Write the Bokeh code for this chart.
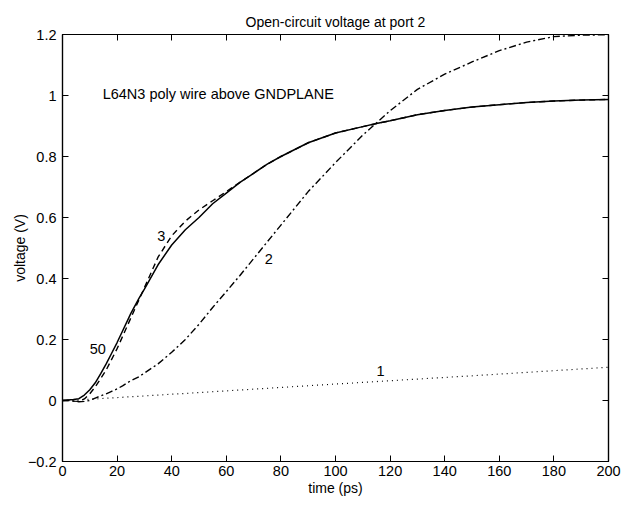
from bokeh.plotting import figure
from bokeh.models import LinearAxis, FixedTicker, Range1d, Label
from bokeh.embed import file_html
from bokeh.resources import INLINE

# time axis (ps) shared by the three transient curves
t = [0, 2, 4, 6, 8, 10, 12, 14, 16, 18, 20, 22, 25, 28, 30, 35, 40, 45, 50, 55,
     60, 65, 70, 75, 80, 90, 100, 110, 115, 120, 130, 140, 150, 160, 170, 180, 190, 200]

# order 50 (solid)
v50 = [0.0, 0.002, 0.003, 0.006, 0.018, 0.035, 0.058, 0.088, 0.12, 0.155, 0.19, 0.228,
       0.285, 0.335, 0.365, 0.445, 0.51, 0.56, 0.60, 0.645, 0.68, 0.715, 0.745, 0.775,
       0.80, 0.845, 0.877, 0.898, 0.908, 0.917, 0.937, 0.951, 0.962, 0.970, 0.977,
       0.982, 0.985, 0.987]

# order 3 (dashed)
v3 = [0.0, 0.0, -0.002, -0.003, 0.005, 0.022, 0.045, 0.072, 0.10, 0.135, 0.17, 0.21,
      0.27, 0.33, 0.37, 0.47, 0.54, 0.588, 0.625, 0.655, 0.685, 0.715, 0.745, 0.775,
      0.80, 0.845, 0.877, 0.898, 0.908, 0.917, 0.937, 0.951, 0.962, 0.970, 0.977,
      0.982, 0.985, 0.987]

# order 2 (dash-dot)
v2 = [0.0, 0.0, -0.002, -0.004, -0.003, 0.0, 0.008, 0.015, 0.022, 0.03, 0.038, 0.048,
      0.065, 0.078, 0.09, 0.12, 0.158, 0.20, 0.25, 0.305, 0.357, 0.41, 0.465, 0.52,
      0.575, 0.685, 0.78, 0.87, 0.91, 0.95, 1.02, 1.07, 1.11, 1.147, 1.175, 1.193,
      1.198, 1.199]

# order 1 (dotted)
t1 = [0, 5, 10, 50, 100, 150, 200]
v1 = [0.0, 0.001, 0.004, 0.026, 0.054, 0.081, 0.109]

x_ticks = [0, 20, 40, 60, 80, 100, 120, 140, 160, 180, 200]
y_ticks = [-0.2, 0.0, 0.2, 0.4, 0.6, 0.8, 1.0, 1.2]
y_tick_labels = ["\u22120.2", "0", "0.2", "0.4", "0.6", "0.8", "1", "1.2"]

FONT = "Liberation Sans"
FS = "14.5px"

p = figure(width=632, height=506, output_backend="svg", toolbar_location=None,
           x_range=Range1d(0, 200), y_range=Range1d(-0.2, 1.2),
           min_border_left=62, min_border_right=24, min_border_top=34, min_border_bottom=45,
           title="Open-circuit voltage at port 2")
p.title.align = "center"
p.title.text_font = FONT
p.title.text_font_size = "14px"
p.title.text_font_style = "normal"
p.title.text_color = "black"
p.title.offset = 0
p.grid.visible = False
p.outline_line_color = "black"
p.outline_line_width = 1.2
p.background_fill_color = "white"
p.border_fill_color = "white"

def style_axis(ax, ticks, show_labels=True):
    ax.ticker = FixedTicker(ticks=ticks)
    ax.major_tick_in = 6
    ax.major_tick_out = 0
    ax.minor_tick_line_color = None
    ax.axis_line_color = "black"
    ax.axis_line_width = 1.2
    ax.major_tick_line_color = "black"
    ax.major_label_text_font = FONT
    ax.major_label_text_font_size = FS
    ax.major_label_text_color = "black"
    ax.axis_label_text_font = FONT
    ax.axis_label_text_font_size = "14px"
    ax.axis_label_text_font_style = "normal"
    ax.axis_label_text_color = "black"
    if not show_labels:
        ax.major_label_text_color = None
        ax.major_label_standoff = 0

style_axis(p.xaxis[0], x_ticks)
style_axis(p.yaxis[0], y_ticks)
p.xaxis[0].axis_label = "time (ps)"
p.xaxis[0].major_label_standoff = 4
p.xaxis[0].axis_label_standoff = 1
p.yaxis[0].axis_label = "voltage (V)"
p.yaxis[0].major_label_standoff = 6
p.yaxis[0].axis_label_standoff = -3
p.yaxis[0].major_label_overrides = dict(zip(y_ticks, y_tick_labels))

top_ax = LinearAxis()
style_axis(top_ax, x_ticks, show_labels=False)
p.add_layout(top_ax, "above")
right_ax = LinearAxis()
style_axis(right_ax, y_ticks, show_labels=False)
p.add_layout(right_ax, "right")

p.line(t1, v1, line_color="black", line_width=1.2, line_dash="1 4")
p.line(t, v2, line_color="black", line_width=1.4, line_dash="7 3 2 3")
p.line(t, v3, line_color="black", line_width=1.4, line_dash="6 4")
p.line(t, v50, line_color="black", line_width=1.5)

def lab(x, y, txt, align="center"):
    p.add_layout(Label(x=x, y=y, text=txt, text_font=FONT, text_font_size=FS,
                       text_color="black", text_align=align, text_baseline="middle"))

lab(12.9, 0.169, "50")
lab(36.2, 0.538, "3")
lab(75.6, 0.465, "2")
lab(116.5, 0.098, "1")
lab(14.7, 1.005, "L64N3 poly wire above GNDPLANE", align="left")

open("out.html", "w").write(file_html(p, INLINE))
